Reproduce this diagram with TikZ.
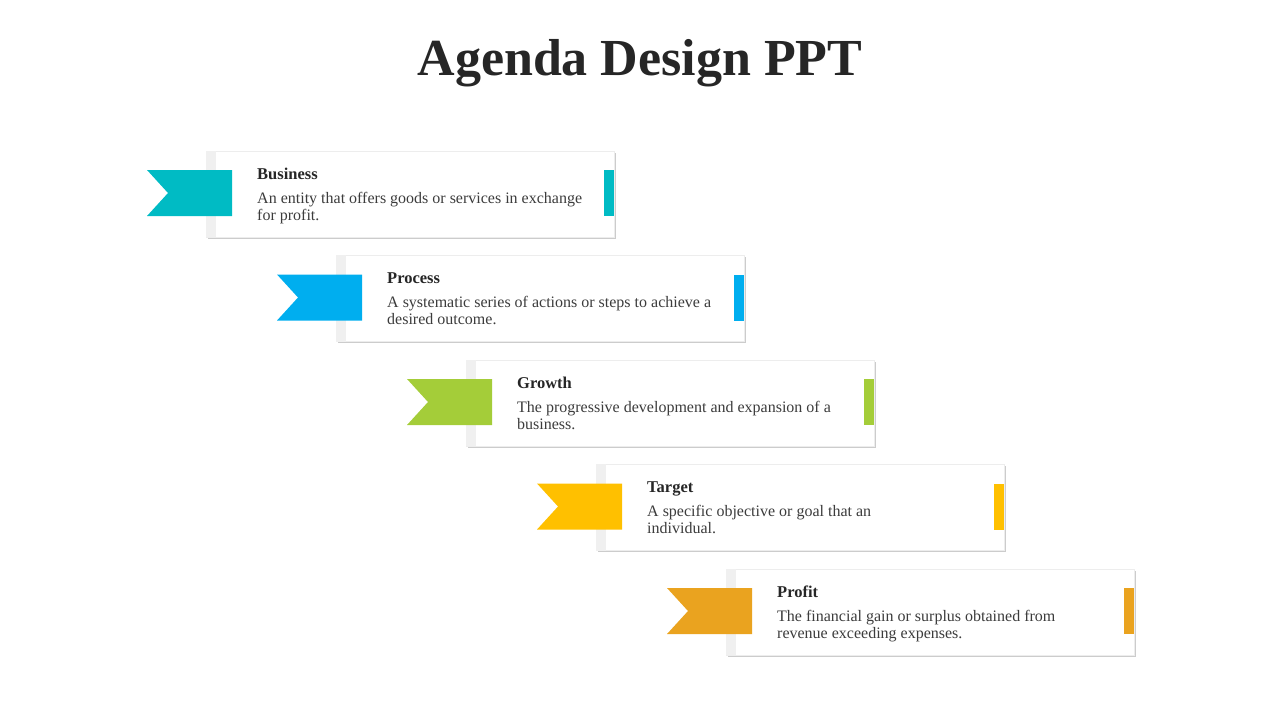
\documentclass[tikz,border=0pt]{standalone}
\usepackage{fontspec}
\setmainfont{Liberation Serif}
\usetikzlibrary{positioning,calc,shadows}

\definecolor{agTeal}{RGB}{0,187,196}
\definecolor{agBlue}{RGB}{0,174,239}
\definecolor{agGreen}{RGB}{164,205,57}
\definecolor{agYellow}{RGB}{255,192,0}
\definecolor{agOrange}{RGB}{234,163,31}
\definecolor{agText}{RGB}{38,38,38}

\begin{document}
\begin{tikzpicture}[
  x=1pt, y=-1pt,
  card/.style={draw=black!7, fill=white, minimum width=408pt, minimum height=86pt, inner sep=0pt,
    drop shadow={shadow xshift=1.5pt, shadow yshift=-1.5pt, opacity=0.2, fill=black}},
  strip/.style={fill=black!6},
  head/.style={anchor=base west, inner sep=0pt, text=agText, font=\fontsize{16.5}{17}\selectfont\bfseries},
  desc/.style={anchor=north west, inner sep=0pt, align=left, text=agText!90, font=\fontsize{16}{17}\selectfont}
]
  \useasboundingbox (0,0) rectangle (1280,720);

  % Title
  \node[anchor=base, inner sep=0pt, text=agText, font=\fontsize{52}{60}\selectfont\bfseries] (title) at (640,75) {Agenda Design PPT};

  % Agenda items
  \foreach \i/\clr/\hd/\la/\lb in {
      0/agTeal/Business/{An entity that offers goods or services in exchange}/{for profit.},
      1/agBlue/Process/{A systematic series of actions or steps to achieve a}/{desired outcome.},
      2/agGreen/Growth/{The progressive development and expansion of a}/{business.},
      3/agYellow/Target/{A specific objective or goal that an}/{individual.},
      4/agOrange/Profit/{The financial gain or surplus obtained from}/{revenue exceeding expenses.}} {
    \node[card] (card\i) at ({410+130*\i},{194+104.5*\i}) {};
    \fill[strip] (card\i.north west) rectangle ($(card\i.south west)+(10,0)$);
    \fill[\clr] ($(card\i.east)+(-10,-24)$) rectangle ($(card\i.east)+(0,22)$);
    % Ribbon
    \fill[\clr] ($(card\i.center)+(-263,-24)$) -- ($(card\i.center)+(-178,-24)$)
      -- ($(card\i.center)+(-178,22)$) -- ($(card\i.center)+(-263,22)$)
      -- ($(card\i.center)+(-242,-1)$) -- cycle;
    \node[head] (head\i) at ($(card\i.center)+(-153,-15)$) {\hd};
    \node[desc] (desc\i) at ($(card\i.center)+(-153,-2)$) {\la\\\lb};
  }
\end{tikzpicture}
\end{document}
